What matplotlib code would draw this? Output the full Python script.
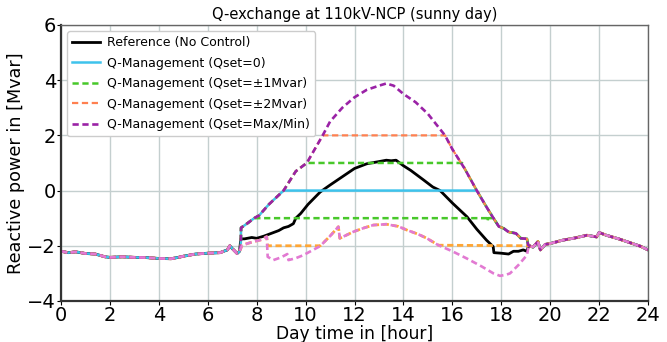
import numpy as np
import matplotlib.pyplot as plt

plt.rcParams['lines.scale_dashes'] = False

# shared part of all curves (night / morning and evening)
t_morning = [0, 0.3, 0.6, 1.0, 1.4, 1.8, 2.0, 2.5, 3.0, 3.5, 4.0, 4.5, 4.8, 5.0, 5.5, 6.0, 6.5, 6.8, 6.9, 7.0, 7.2, 7.3]
q_morning = [-2.2, -2.25, -2.22, -2.28, -2.3, -2.4, -2.42, -2.4, -2.42, -2.43, -2.46, -2.47, -2.42, -2.38, -2.3, -2.27, -2.25, -2.15, -2.0, -2.1, -2.28, -2.2]
t_evening = [19.15, 19.3, 19.5, 19.6, 19.8, 20.0, 20.5, 21.0, 21.5, 21.9, 22.0, 22.3, 22.8, 23.3, 23.7, 24.0]
q_evening = [-2.0, -2.05, -1.85, -2.15, -1.95, -1.92, -1.8, -1.72, -1.62, -1.68, -1.52, -1.62, -1.75, -1.9, -2.02, -2.15]

# reference (no control), daytime part
t_ref = [7.35, 7.5, 7.8, 8.0, 8.3, 8.6, 8.9, 9.1, 9.3, 9.5, 9.6, 9.8, 10.1, 10.6, 11.0, 11.5, 12.0, 12.5, 13.0, 13.3, 13.5,
         13.7, 14.0, 14.3, 14.8, 15.2, 15.5, 16.0, 16.6, 17.0, 17.4, 17.67, 17.7, 18.0, 18.3, 18.5, 18.7, 18.9, 19.05, 19.1]
q_ref = [-1.75, -1.75, -1.7, -1.73, -1.65, -1.55, -1.45, -1.35, -1.3, -1.2, -1.0, -0.83, -0.5, -0.05, 0.2, 0.5, 0.8, 0.97, 1.05, 1.1, 1.08,
         1.1, 0.9, 0.73, 0.4, 0.13, 0.0, -0.45, -0.95, -1.4, -1.8, -2.03, -2.25, -2.27, -2.3, -2.2, -2.2, -2.15, -2.2, -2.05]

# Qset = Max (upper limit), daytime part
t_max = [7.35, 7.36, 7.6, 7.9, 8.1, 8.5, 9.1, 9.6, 10.05, 10.7, 11.0, 11.5, 12.0, 12.5, 13.0, 13.3, 13.6, 14.0, 14.5, 15.0,
         15.7, 16.0, 16.5, 17.0, 17.4, 17.68, 17.9, 18.1, 18.3, 18.6, 18.8, 19.05, 19.1]
q_max = [-2.0, -1.35, -1.2, -1.0, -0.9, -0.5, 0.0, 0.7, 1.0, 2.0, 2.5, 3.0, 3.38, 3.65, 3.8, 3.88, 3.8, 3.5, 3.2, 2.78,
         2.0, 1.5, 0.8, 0.0, -0.6, -1.0, -1.3, -1.37, -1.5, -1.55, -1.73, -1.75, -1.97]

# Qset = Min (lower limit), daytime part
t_min = [7.35, 7.4, 7.87, 8.2, 8.41, 8.45, 8.68, 9.0, 9.25, 9.3, 9.6, 9.91, 10.6, 11.0, 11.34, 11.4, 11.96, 12.4, 12.77, 13.3,
         13.8, 14.14, 14.6, 14.96, 15.43, 16.0, 16.59, 17.2, 17.68, 17.95, 18.2, 18.36, 18.7, 19.05, 19.1]
q_min = [-2.1, -1.98, -1.85, -1.78, -1.67, -2.4, -2.52, -2.42, -2.3, -2.52, -2.45, -2.34, -2.01, -1.65, -1.31, -1.73, -1.49, -1.35, -1.25, -1.22,
         -1.3, -1.43, -1.58, -1.73, -1.98, -2.2, -2.46, -2.75, -3.0, -3.09, -3.05, -3.0, -2.7, -2.34, -2.1]

# Qset = 0
t_q0 = [7.35, 7.36, 7.6, 7.9, 8.1, 8.5, 9.1, 17.0, 17.4, 17.68, 17.9, 18.1, 18.3, 18.6, 18.8, 19.05, 19.1]
q_q0 = [-2.0, -1.35, -1.2, -1.0, -0.9, -0.5, 0.0, 0.0, -0.6, -1.0, -1.3, -1.37, -1.5, -1.55, -1.73, -1.75, -1.97]

# Qset = +1 / -1
t_p1 = [7.35, 7.36, 7.6, 7.9, 8.1, 8.5, 9.1, 9.6, 10.05, 16.4, 16.5, 17.0, 17.4, 17.68, 17.9, 18.1, 18.3, 18.6, 18.8, 19.05, 19.1]
q_p1 = [-2.0, -1.35, -1.2, -1.0, -0.9, -0.5, 0.0, 0.7, 1.0, 1.0, 0.8, 0.0, -0.6, -1.0, -1.3, -1.37, -1.5, -1.55, -1.73, -1.75, -1.97]
t_m1 = [7.35, 7.36, 7.6, 7.9, 17.44, 17.45, 17.46, 17.68, 17.9, 18.1, 18.3, 18.6, 18.8, 19.05, 19.1]
q_m1 = [-2.0, -1.35, -1.2, -1.0, -1.0, -1.1, -1.0, -1.0, -1.3, -1.37, -1.5, -1.55, -1.73, -1.75, -1.97]

# Qset = +2 / -2
t_p2 = [7.35, 7.36, 7.6, 7.9, 8.1, 8.5, 9.1, 9.6, 10.05, 10.7, 15.7, 16.0, 16.5, 17.0, 17.4, 17.68, 17.9, 18.1, 18.3, 18.6, 18.8, 19.05, 19.1]
q_p2 = [-2.0, -1.35, -1.2, -1.0, -0.9, -0.5, 0.0, 0.7, 1.0, 2.0, 2.0, 1.5, 0.8, 0.0, -0.6, -1.0, -1.3, -1.37, -1.5, -1.55, -1.73, -1.75, -1.97]
t_m2 = [7.35, 7.4, 7.87, 8.2, 8.41, 8.45, 10.6, 11.0, 11.34, 11.4, 11.96, 12.4, 12.77, 13.3, 13.8, 14.14, 14.6, 14.96, 15.43, 19.1]
q_m2 = [-2.1, -1.98, -1.85, -1.78, -1.67, -2.0, -2.0, -1.65, -1.31, -1.73, -1.49, -1.35, -1.25, -1.22, -1.3, -1.43, -1.58, -1.73, -1.98, -2.0]


def full(t_day, q_day):
    return t_morning + t_day + t_evening, q_morning + q_day + q_evening


dash = (0, (4.5, 2.6))

fig = plt.figure(figsize=(6.67, 3.42), dpi=100)
ax = fig.add_axes([0.0915, 0.12, 0.88, 0.807])

t, q = full(t_ref, q_ref)
ax.plot(t, q, color='black', lw=2.0, label='Reference (No Control)')
t, q = full(t_q0, q_q0)
ax.plot(t, q, color='#3ec3ec', lw=1.8, label='Q-Management (Qset=0)')
t, q = full(t_p1, q_p1)
ax.plot(t, q, color='#48c82a', lw=1.8, ls=dash, label='Q-Management (Qset=\u00b11Mvar)')
t, q = full(t_m1, q_m1)
ax.plot(t, q, color='#48c82a', lw=1.8, ls=dash)
t, q = full(t_p2, q_p2)
ax.plot(t, q, color='#ff8050', lw=1.6, ls=dash, label='Q-Management (Qset=\u00b12Mvar)')
t, q = full(t_m2, q_m2)
ax.plot(t, q, color='#ffa635', lw=2.0, ls=dash)
t, q = full(t_max, q_max)
ax.plot(t, q, color='#9a22a6', lw=1.9, ls=dash, label='Q-Management (Qset=Max/Min)')
t, q = full(t_min, q_min)
ax.plot(t, q, color='#e27ad2', lw=1.9, ls=dash)

ax.set_xlim(0, 24)
ax.set_ylim(-4, 6)
ax.set_xticks(np.arange(0, 25, 2))
ax.set_yticks(np.arange(-4, 7, 2))
ax.grid(True, color='#c4cfcf', lw=1.0)
ax.tick_params(labelsize=14, length=3, pad=0.5)
for s in ['left', 'bottom']:
    ax.spines[s].set_linewidth(1.6)
    ax.spines[s].set_color('#333333')
for s in ['top', 'right']:
    ax.spines[s].set_linewidth(1.0)
    ax.spines[s].set_color('#666666')

ax.set_title('Q-exchange at 110kV-NCP (sunny day)', fontsize=10.5, pad=4)
ax.set_xlabel('Day time in [hour]', fontsize=12.3, labelpad=0)
ax.set_ylabel('Reactive power in [Mvar]', fontsize=12.7, labelpad=2)
ax.legend(loc='upper left', fontsize=9, handlelength=2.2, handletextpad=0.6,
          borderaxespad=0.5, labelspacing=0.6, framealpha=1, edgecolor='#cccccc')

fig.savefig('out.png', dpi=100)
